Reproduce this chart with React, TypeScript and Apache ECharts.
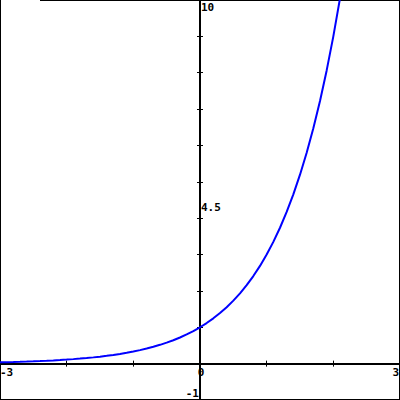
import React, { useEffect, useRef } from "react";
import * as echarts from "echarts";

const xValues = [
  -3.0, -2.9, -2.8, -2.7, -2.6, -2.5, -2.4, -2.3, -2.2, -2.1,
  -2.0, -1.9, -1.8, -1.7, -1.6, -1.5, -1.4, -1.3, -1.2, -1.1,
  -1.0, -0.9, -0.8, -0.7, -0.6, -0.5, -0.4, -0.3, -0.2, -0.1,
  0.0, 0.1, 0.2, 0.3, 0.4, 0.5, 0.6, 0.7, 0.8, 0.9,
  1.0, 1.1, 1.2, 1.3, 1.4, 1.5, 1.6, 1.7, 1.8, 1.9,
  2.0, 2.1, 2.2,
];
const yValues = [
  0.037, 0.0414, 0.0461, 0.0516, 0.0575, 0.0642, 0.0717, 0.08, 0.0892, 0.0996,
  0.1111, 0.124, 0.1384, 0.1544, 0.1723, 0.1925, 0.2148, 0.2397, 0.2676, 0.2986,
  0.3333, 0.372, 0.4152, 0.4634, 0.5173, 0.5774, 0.6444, 0.7192, 0.8027, 0.896,
  1.0, 1.1161, 1.2457, 1.3904, 1.5518, 1.7321, 1.9332, 2.1577, 2.4082, 2.6879,
  3.0, 3.3484, 3.7372, 4.1712, 4.6555, 5.1962, 5.7995, 6.473, 7.2247, 8.0636,
  9.0, 10.045, 11.212,
];

const xRange = [-3, 3];
const yRange = [-1, 10];
const xTickLabels = ["-3", "0", "3"];
const yTickLabels = ["10", "4.5", "-1"];

const FONT = 'bold 11px "DejaVu Sans Mono", monospace';

export default function App() {
  const ref = useRef<HTMLDivElement>(null);
  useEffect(() => {
    if (!ref.current) return;
    const chart = echarts.init(ref.current, null, { renderer: "svg" });
    const axisLine = { onZero: true, lineStyle: { color: "#000", width: 2 } };
    const tick = { show: true, length: 3, lineStyle: { color: "#000", width: 1 } };
    const xBase = {
      type: "value" as const,
      min: xRange[0],
      max: xRange[1],
      interval: 1,
      axisLine,
      axisTick: tick,
      axisLabel: { show: false },
      splitLine: { show: false },
    };
    const yBase = {
      type: "value" as const,
      min: yRange[0],
      max: yRange[1],
      interval: 1,
      axisLine,
      axisTick: tick,
      axisLabel: { show: false },
      splitLine: { show: false },
    };
    chart.setOption({
      animation: false,
      grid: { left: 0, right: 0, top: 0, bottom: 0, containLabel: false },
      xAxis: [
        { ...xBase, position: "bottom" },
        { ...xBase, position: "top" },
      ],
      yAxis: [
        { ...yBase, position: "left" },
        { ...yBase, position: "right" },
      ],
      series: [
        {
          type: "line",
          xAxisIndex: 0,
          yAxisIndex: 0,
          data: xValues.map((x, i) => [x, yValues[i]]),
          showSymbol: false,
          smooth: false,
          clip: true,
          lineStyle: { color: "#0000ff", width: 2 },
        },
      ],
    });
    const p = (x: number, y: number) => chart.convertToPixel({ gridIndex: 0 }, [x, y]) as number[];
    const o = p(0, 0);
    const txt = (text: string, x: number, y: number, align: string, vAlign: string) => ({
      type: "text",
      x,
      y,
      style: { text, font: FONT, fill: "#000", align, verticalAlign: vAlign },
    });
    chart.setOption({
      graphic: [
        { type: "line", shape: { x1: 0.5, y1: 0, x2: 0.5, y2: 400 }, style: { stroke: "#000", lineWidth: 1 } },
        { type: "line", shape: { x1: 0, y1: 399.5, x2: 400, y2: 399.5 }, style: { stroke: "#000", lineWidth: 1 } },
        { type: "line", shape: { x1: 399.5, y1: 0, x2: 399.5, y2: 400 }, style: { stroke: "#000", lineWidth: 1 } },
        { type: "line", shape: { x1: 40, y1: 0.5, x2: 400, y2: 0.5 }, style: { stroke: "#000", lineWidth: 1 } },
        txt(xTickLabels[0], p(xRange[0], 0)[0], o[1] + 3, "left", "top"),
        txt(xTickLabels[1], o[0] + 1, o[1] + 3, "center", "top"),
        txt(xTickLabels[2], p(xRange[1], 0)[0] - 1, o[1] + 3, "right", "top"),
        txt(yTickLabels[0], o[0] + 1, p(0, 10)[1] + 2, "left", "top"),
        txt(yTickLabels[1], o[0] + 1, p(0, 4.5)[1] + 2, "left", "top"),
        txt(yTickLabels[2], o[0] - 1, p(0, yRange[0])[1] - 1, "right", "bottom"),
      ],
    });
    return () => chart.dispose();
  }, []);
  return <div ref={ref} style={{ position: "fixed", left: 0, top: 0, width: 400, height: 400, background: "#fff" }} />;
}
